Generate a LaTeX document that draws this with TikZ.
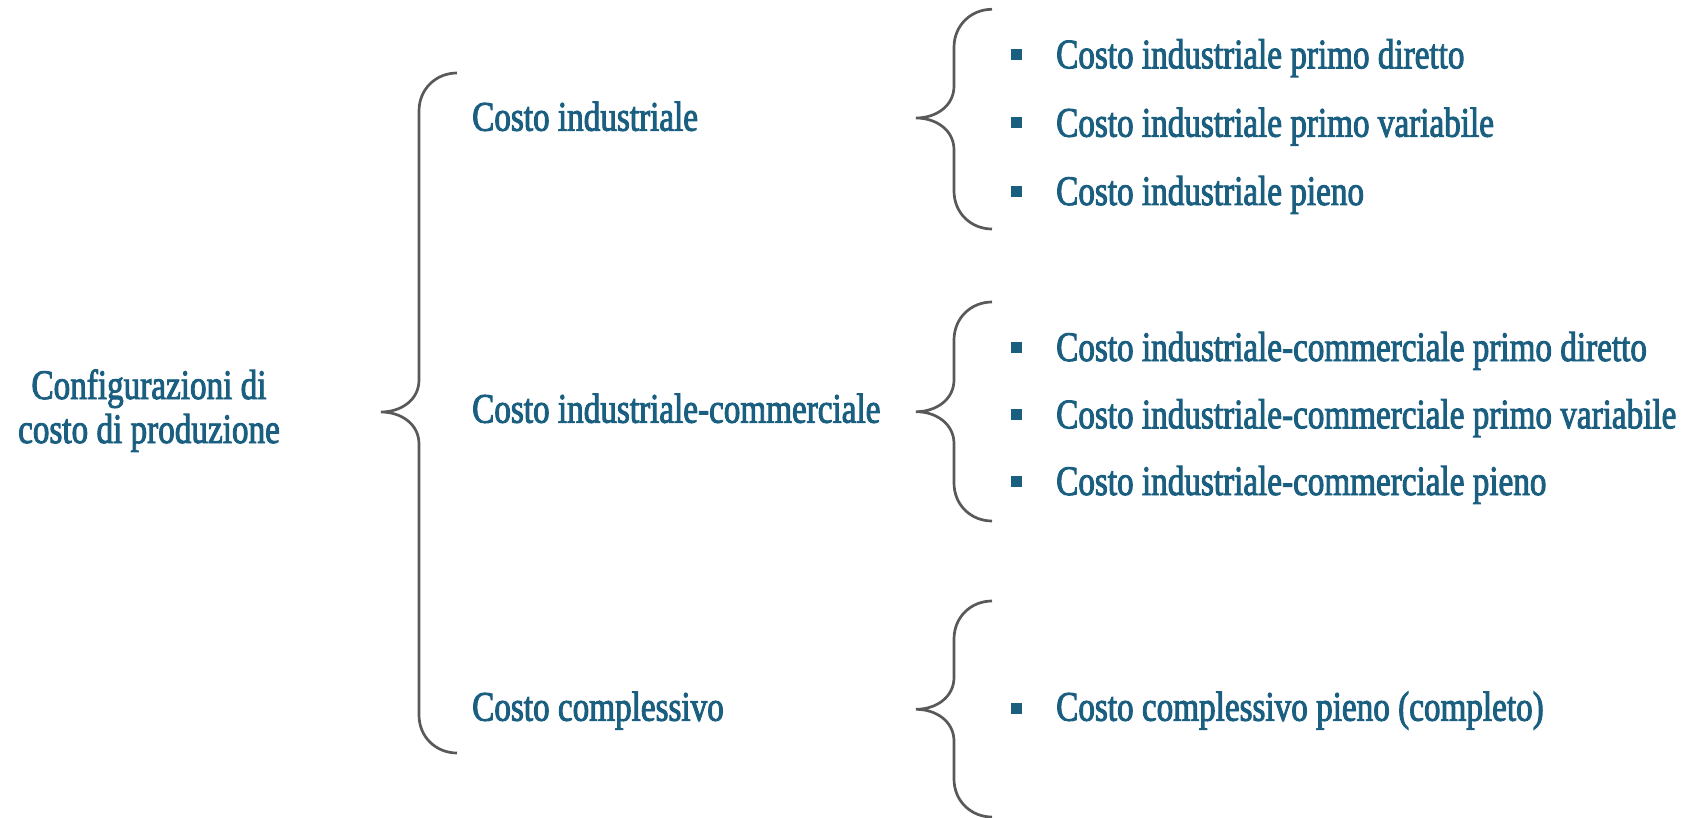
\documentclass[tikz,border=0pt]{standalone}
\usepackage{fontspec}
\setmainfont{Liberation Serif}[FakeStretch=0.79,FakeBold=2.2]
\definecolor{teal}{HTML}{1A5E80}
\definecolor{bracegray}{HTML}{595959}
\newcommand{\BraceShape}[4]{%
  \draw[bracestyle] (#1+76,#2) .. controls (#1+55,#2) and (#1+38,#2+16) .. (#1+38,#2+38)
    -- (#1+38,#3-32)
    .. controls (#1+38,#3-12) and (#1+20,#3) .. (#1,#3)
    .. controls (#1+20,#3) and (#1+38,#3+12) .. (#1+38,#3+32)
    -- (#1+38,#4-38)
    .. controls (#1+38,#4-16) and (#1+55,#4) .. (#1+76,#4);}
\tikzset{
  bracestyle/.style={draw=bracegray, line width=2.7pt},
  lbl/.style={text=teal, font=\fontsize{42}{44}\selectfont, inner sep=0pt, anchor=base west},
  rootlbl/.style={text=teal, font=\fontsize{42}{44}\selectfont, inner sep=0pt, align=center},
  bulletsq/.style={fill=teal, draw=none, minimum size=11pt, inner sep=0pt, rectangle},
}
\begin{document}
\begin{tikzpicture}[x=1pt,y=-1pt]
\useasboundingbox (0,0) rectangle (1693,818);
% root
\node[rootlbl, anchor=base] (root) at (149,443) {Configurazioni di\\costo di produzione};
% main bracket
\BraceShape{381}{73}{412}{753}
% level 1
\node[lbl] (ci) at (472,130.7) {Costo industriale};
\node[lbl] (cic) at (472,422.7) {Costo industriale-commerciale};
\node[lbl] (cc) at (472,720.7) {Costo complessivo};
% right braces
\BraceShape{916}{9.3}{118}{229}
\BraceShape{916}{302}{411.7}{521}
\BraceShape{916}{601}{709.3}{817}
% items group 1
\node[bulletsq] (b11) at (1016,54.5) {};
\node[lbl] (i11) at (1056,68.3) {Costo industriale primo diretto};
\node[bulletsq] (b12) at (1016,122.9) {};
\node[lbl] (i12) at (1056,136.7) {Costo industriale primo variabile};
\node[bulletsq] (b13) at (1016,191.2) {};
\node[lbl] (i13) at (1056,205) {Costo industriale pieno};
% items group 2
\node[bulletsq] (b21) at (1016,347.2) {};
\node[lbl] (i21) at (1056,361) {Costo industriale-commerciale primo diretto};
\node[bulletsq] (b22) at (1016,414.5) {};
\node[lbl] (i22) at (1056,428.3) {Costo industriale-commerciale primo variabile};
\node[bulletsq] (b23) at (1016,481.2) {};
\node[lbl] (i23) at (1056,495) {Costo industriale-commerciale pieno};
% items group 3
\node[bulletsq] (b31) at (1016,708.3) {};
\node[lbl] (i31) at (1056,720.7) {Costo complessivo pieno (completo)};
\end{tikzpicture}
\end{document}
